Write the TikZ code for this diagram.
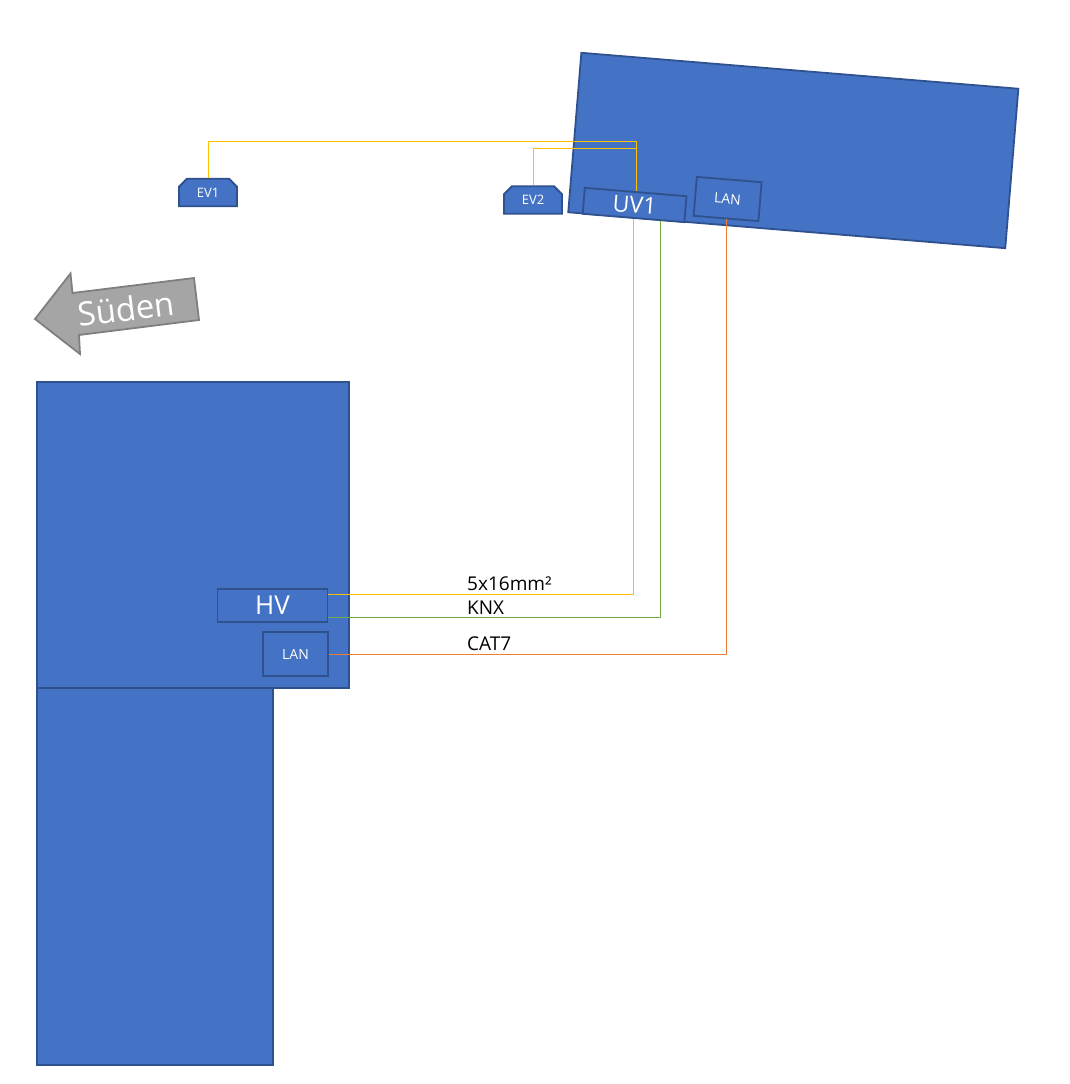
\documentclass[tikz,border=0pt]{standalone}
\usepackage{fontspec}
\setmainfont{Open Sans}
\usetikzlibrary{shapes.misc}
\definecolor{bluefill}{HTML}{4472C4}
\definecolor{blueedge}{HTML}{2F528F}
\definecolor{cableY}{HTML}{FFC000}
\definecolor{cableG}{HTML}{70AD47}
\definecolor{cableO}{HTML}{ED7D31}
\definecolor{arrowfill}{HTML}{A5A5A5}
\definecolor{arrowedge}{HTML}{7F7F7F}
\newcommand{\fs}[1]{\fontsize{#1pt}{#1pt}\selectfont}
\tikzset{
  block/.style={draw=blueedge,fill=bluefill,line width=1.8pt,inner sep=0pt,text=white,minimum width=#1},
  evbox/.style={chamfered rectangle,chamfered rectangle corners={north east,north west},chamfered rectangle xsep=4pt,chamfered rectangle ysep=4pt,draw=blueedge,fill=bluefill,line width=1.8pt,inner sep=0pt,text=white,minimum width=58pt,minimum height=27.5pt,font=\fs{13}},
  cable/.style={line width=1pt},
  lbl/.style={anchor=west,inner sep=0pt,text=black,font=\fs{19}}
}
\begin{document}
\begin{tikzpicture}[x=1pt,y=-1pt]
\useasboundingbox (0,0) rectangle (1070,1084);
% buildings
\node[block=438.5pt,minimum height=160pt,rotate=-4.7] (north) at (793.3,150.5) {};
\node[block=312pt,minimum height=306pt] (main) at (193,535) {};
\node[block=236pt,minimum height=377pt] (wing) at (155,876.5) {};
% cabinets
\node[block=102pt,minimum height=26pt,rotate=-4.7,font=\fs{23}] (uv) at (634.6,205) {\raisebox{-1pt}{UV1}};
\node[block=65pt,minimum height=39pt,rotate=-4.7,font=\fs{14}] (lanN) at (727.6,199) {LAN};
\node[block=110pt,minimum height=33pt,font=\fs{26}] (hv) at (272.5,605.5) {\raisebox{-1pt}{HV}};
\node[block=65pt,minimum height=44pt,font=\fs{14}] (lanS) at (295.5,654.2) {\raisebox{-1pt}{LAN}};
\node[evbox] (ev1) at (208,192.5) {\raisebox{-2pt}{EV1}};
\node[evbox] (ev2) at (533,200) {\raisebox{-2pt}{EV2}};
% compass arrow
\draw[draw=arrowedge,fill=arrowfill,line width=1.8pt,line join=miter]
  (35,319) -- (70.5,273.5) -- (72.5,293) -- (194,278) -- (199,320) -- (79,335) -- (80,354) -- cycle;
\node[rotate=7,text=white,font=\fs{33},inner sep=0pt] (sued) at (126,308.5) {Süden};
% cables
\draw[cableY,cable] ([yshift=11pt]hv.east) -| (uv.south);
\draw[cableG,cable] ([yshift=-12pt]hv.east) -| ([xshift=27pt,yshift=-2.2pt]uv.south);
\draw[cableO,cable] (lanS.east) -| ([xshift=0.6pt]lanN.south);
\draw[cableY,cable] ([xshift=0.5pt]ev1.north) -- ++(0,-36.4) -| ([xshift=0.8pt]uv.north);
\draw[cableY,cable] ([xshift=0.5pt]ev2.north) -- ++(0,-36.9) -| ([xshift=0.8pt]uv.north);
% labels
\node[lbl] (l1) at (467,583.6) {5x16mm²};
\node[lbl] (l2) at (467,607.4) {KNX};
\node[lbl] (l3) at (467,643.4) {CAT7};
\end{tikzpicture}
\end{document}
